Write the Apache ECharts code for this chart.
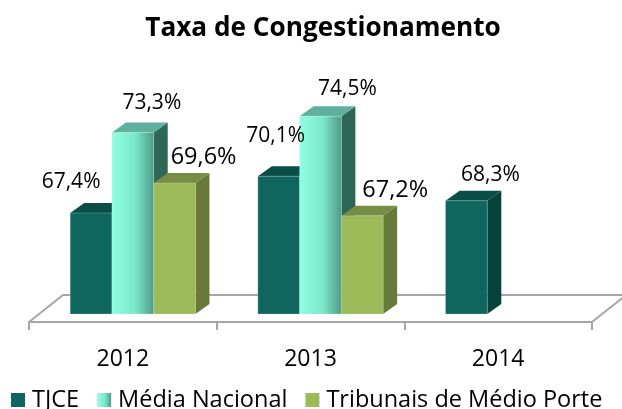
<!DOCTYPE html>
<html>
<head>
<meta charset="utf-8">
<script src="https://cdn.jsdelivr.net/npm/echarts@6/dist/echarts.min.js"></script>
<style>html,body{margin:0;padding:0;background:#fff}#c{width:622px;height:409px}</style>
</head>
<body>
<div id="c"></div>
<script>
var categories = ['2012', '2013', '2014'];
var seriesNames = ['TJCE', 'Média Nacional', 'Tribunais de Médio Porte'];
var tjce = [67.4, 70.1, 68.3];
var mediaNacional = [73.3, 74.5, null];
var tribunais = [69.6, 67.2, null];

var FONT = '"Open Sans", "Noto Sans", sans-serif';
var DEPTH_X = 14, DEPTH_Y = 10, BAR_RATIO = 0.2225, PLANE_SHIFT = 10;
// label displacement from the top centre of each bar (hand placed in the source chart)
var labelShift = [
  [[-20, -31], [-3, -40], [24, -26]],
  [[19, -30], [27, -27], null],
  [[29, -26], [33, -25], null]
];
var labelSize = [21, 21, 23.5];
var mnGradient = function () {
  return new echarts.graphic.LinearGradient(0, 0, 1, 0, [
    { offset: 0, color: '#8FFFE3' },
    { offset: 0.55, color: '#7BE8CA' },
    { offset: 1, color: '#4E9A87' }
  ]);
};
var palette = [
  { front: '#0E665E', top: '#0A4F47', side: '#06423C', edge: '#BFDAD5' },
  { front: mnGradient(), top: '#5FB09C', side: '#2F6757', edge: '#CFF5EA' },
  { front: '#9BBB59', top: '#778D45', side: '#677A3A', edge: '#DCE8C4' }
];

function fmt(v) { return v.toFixed(1).replace('.', ',') + '%'; }

function barRenderer(si) {
  return function (params, api) {
    var cat = api.value(0), val = api.value(1);
    var band = api.size([1, 0])[0];
    var w = band * BAR_RATIO;
    var pTop = api.coord([cat, val]);
    var pBase = api.coord([cat, 60]);
    var x = pTop[0] + PLANE_SHIFT + (si - 1.5) * w;
    var y = pTop[1], b = pBase[1];
    var c = palette[si];
    var shift = labelShift[si][cat];
    return {
      type: 'group',
      children: [
        { type: 'polygon', shape: { points: [[x + w, y], [x + w + DEPTH_X, y - DEPTH_Y], [x + w + DEPTH_X, b - DEPTH_Y], [x + w, b]] }, style: { fill: c.side } },
        { type: 'polygon', shape: { points: [[x, y], [x + DEPTH_X, y - DEPTH_Y], [x + w + DEPTH_X, y - DEPTH_Y], [x + w, y]] }, style: { fill: c.top } },
        { type: 'rect', shape: { x: x, y: y, width: w, height: b - y }, style: { fill: c.front, stroke: c.edge, lineWidth: 0.3 } },
        { type: 'text', z2: 100, style: { text: fmt(val), x: x + w / 2 + shift[0], y: y + shift[1], align: 'center', verticalAlign: 'middle', fontFamily: FONT, fontSize: labelSize[si], fill: '#000' } }
      ]
    };
  };
}

function floorRenderer(params, api) {
  var cs = params.coordSys;
  var fy = cs.y + cs.height + 8, by = cs.y + cs.height - 19;
  var l = cs.x, r = cs.x + cs.width;
  var s = { stroke: '#A6A6A6', lineWidth: 2, fill: 'none' };
  return {
    type: 'group',
    children: [
      { type: 'polyline', shape: { points: [[l, fy], [l + 34, by], [r + 34, by], [r, fy]] }, style: s }
    ]
  };
}

function rows(vals) {
  var out = [];
  vals.forEach(function (v, i) { if (v !== null) out.push([i, v]); });
  return out;
}

var valueSets = [tjce, mediaNacional, tribunais];
var series = [{
  type: 'custom', name: 'floor', silent: true, clip: false,
  renderItem: floorRenderer, data: [[0, 60]], encode: { x: 0, y: 1 }
}];
valueSets.forEach(function (vals, si) {
  series.push({
    type: 'custom', name: seriesNames[si], clip: false,
    renderItem: barRenderer(si),
    data: rows(vals), encode: { x: 0, y: 1 },
    itemStyle: { color: si === 1 ? mnGradient() : palette[si].front }
  });
});

var chart = echarts.init(document.getElementById('c'), null, { renderer: 'canvas' });
chart.setOption({
  animation: false,
  backgroundColor: '#fff',
  title: {
    text: 'Taxa de Congestionamento', left: 318, top: 11, textAlign: 'center',
    textStyle: { fontFamily: FONT, fontWeight: 'bold', fontSize: 26.2, color: '#000' }
  },
  legend: {
    data: seriesNames, left: 11, top: 388, padding: 0, itemGap: 18,
    itemWidth: 14, itemHeight: 14, icon: 'rect',
    textStyle: { fontFamily: FONT, fontSize: 23.5, color: '#000', padding: [0, 0, 0, 2] }
  },
  grid: { left: 29, right: 30, top: 41.2, bottom: 95 },
  xAxis: {
    type: 'category', data: categories, offset: 8,
    axisLine: { show: true, lineStyle: { color: '#A6A6A6', width: 2 } },
    axisTick: { show: true, length: 8, lineStyle: { color: '#A6A6A6', width: 2 } },
    axisLabel: { fontFamily: FONT, fontSize: 23, color: '#000', margin: 26 }
  },
  yAxis: { type: 'value', min: 60, max: 80, show: false, splitLine: { show: false } },
  series: series
});
</script>
</body>
</html>
